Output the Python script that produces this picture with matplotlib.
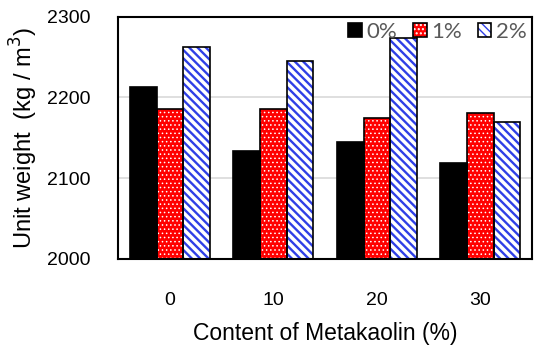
import matplotlib
matplotlib.use("Agg")
import matplotlib.pyplot as plt
import numpy as np
from matplotlib.legend_handler import HandlerTuple
from matplotlib.patches import Patch

categories = ["0", "10", "20", "30"]
series_names = ["0%", "1%", "2%"]
mk0 = [2213, 2133, 2145, 2119]
mk1 = [2186, 2186, 2174, 2181]
mk2 = [2262, 2245, 2274, 2170]

plt.rcParams['font.family'] = ['Liberation Sans', 'DejaVu Sans']

fig = plt.figure(figsize=(5.35, 3.45), dpi=100)
ax = fig.add_axes([0.221, 0.250, 0.7735, 0.702])

x = np.arange(len(categories))
w = 0.258
blue = "#2f3fe6"

# fill styles: (face, hatch colour, hatch, hatch linewidth)
styles = [("black", "black", None, 1.0),
          ("#ff0000", "white", "....", 0.6),
          ("white", blue, "\\\\\\\\", 1.7)]


def set_hlw(p, lw):
    if hasattr(p, "set_hatch_linewidth"):
        p.set_hatch_linewidth(lw)


handles = []
for i, vals in enumerate([mk0, mk1, mk2]):
    face, hc, hatch, hlw = styles[i]
    bars = ax.bar(x + (i - 1) * w, np.array(vals) - 2000, w, bottom=2000,
                  color=face, edgecolor=hc, hatch=hatch, linewidth=0, zorder=3)
    for b in bars:
        set_hlw(b, hlw)
    ax.bar(x + (i - 1) * w, np.array(vals) - 2000, w, bottom=2000,
           facecolor="none", edgecolor="black", linewidth=1.2, zorder=4)
    p1 = Patch(facecolor=face, edgecolor=hc, hatch=hatch, linewidth=0)
    set_hlw(p1, hlw)
    p2 = Patch(facecolor="none", edgecolor="black", linewidth=1.2)
    handles.append((p1, p2))

ax.set_xlim(-0.5, 3.5)
ax.set_ylim(2000, 2300)
ax.set_yticks([2000, 2100, 2200, 2300])
ax.set_xticks(x)
ax.set_xticklabels(categories)
ax.tick_params(axis='both', length=0, labelsize=14)
ax.tick_params(axis='y', pad=20)
ax.tick_params(axis='x', pad=24)
ax.grid(axis='y', color="#d9d9d9", linewidth=1.2, zorder=0)
for s in ax.spines.values():
    s.set_linewidth(1.5)
    s.set_zorder(5)

ax.set_xlabel("Content of Metakaolin (%)", fontsize=16.5, labelpad=9)
ax.set_ylabel("Unit weight  (kg / m$^3$)", fontsize=17, labelpad=5)

leg = ax.legend(handles, series_names, handler_map={tuple: HandlerTuple(ndivide=1, pad=0)},
                loc="upper right", ncol=3, frameon=False,
                prop={'family': 'Lato', 'size': 16},
                handlelength=0.62, handleheight=0.62, handletextpad=0.2,
                columnspacing=0.7, borderaxespad=0.1, borderpad=0.15)
for t in leg.get_texts():
    t.set_color("#595959")

fig.savefig("out.png", dpi=100)
